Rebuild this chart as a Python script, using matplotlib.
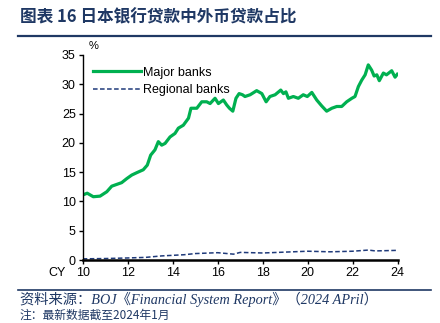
import numpy as np
import matplotlib
matplotlib.use("Agg")
import matplotlib.pyplot as plt
from matplotlib.lines import Line2D

plt.rcParams['font.family'] = ['Liberation Sans', 'Noto Sans CJK SC']

# 大型银行外币贷款占比(%)
major_x = [10.0, 10.2, 10.47, 10.77, 11.07, 11.29, 11.51, 11.73, 11.96, 12.18, 12.4, 12.69,
           12.87, 13.02, 13.21, 13.36, 13.51, 13.66, 13.88, 14.1, 14.25, 14.47, 14.7, 14.81,
           15.07, 15.29, 15.51, 15.66, 15.88, 16.03, 16.25, 16.4, 16.52, 16.67, 16.81, 16.95,
           17.1, 17.21, 17.44, 17.73, 17.96, 18.15, 18.32, 18.55, 18.8, 18.92, 19.03, 19.14,
           19.36, 19.58, 19.8, 19.98, 20.18, 20.4, 20.62, 20.84, 21.07, 21.29, 21.51, 21.73,
           21.96, 22.1, 22.25, 22.4, 22.55, 22.69, 22.84, 22.95, 23.07, 23.18, 23.36, 23.5,
           23.73, 23.88, 23.98]
major_y = [11.1, 11.4, 10.8, 10.9, 11.65, 12.6, 12.9, 13.2, 13.9, 14.5, 14.9, 15.4,
           16.2, 17.9, 18.8, 20.2, 19.6, 19.9, 21.0, 21.6, 22.5, 23.0, 24.2, 25.9,
           25.9, 27.0, 27.0, 26.7, 27.6, 26.7, 27.3, 26.45, 25.9, 25.4, 27.6, 28.4,
           28.2, 27.9, 28.2, 28.9, 28.4, 27.0, 27.9, 28.2, 29.0, 28.4, 28.7, 27.6,
           27.9, 27.6, 28.2, 27.9, 28.6, 27.3, 26.3, 25.4, 25.9, 26.2, 26.2, 27.0,
           27.6, 27.9, 29.6, 30.7, 31.6, 33.3, 32.4, 31.4, 31.6, 30.6, 31.9, 31.6,
           32.3, 31.2, 31.7]

# 地方银行外币贷款占比(%)
regional_x = [10, 11, 12, 12.8, 13.5, 14.5, 15, 16, 16.7, 17, 18, 19, 20, 21, 22, 22.7, 23, 24]
regional_y = [0.2, 0.25, 0.35, 0.45, 0.7, 0.9, 1.1, 1.25, 1.0, 1.3, 1.2, 1.35, 1.5, 1.4, 1.5, 1.7, 1.55, 1.65]

xticks = [10, 12, 14, 16, 18, 20, 22, 24]
yticks = [0, 5, 10, 15, 20, 25, 30, 35]

title = "图表 16 日本银行贷款中外币贷款占比"
source = "资料来源：BOJ《Financial System Report》（2024 APril）"
note = "注：最新数据截至2024年1月"

navy = "#1f3864"
green = "#00b050"

fig = plt.figure(figsize=(4.4, 3.23), dpi=100)
ax = fig.add_axes([0.188, 0.195, 0.716, 0.635])

ax.plot(major_x, major_y, color=green, lw=2.3, label="Major banks", solid_joinstyle="round")
ax.plot(regional_x, regional_y, color="#1f3a7a", lw=1.1, ls=(0, (3, 1.6)), label="Regional banks")

ax.set_xlim(10, 24)
ax.set_ylim(0, 35)
ax.set_xticks(xticks)
ax.set_yticks(yticks)
ax.tick_params(labelsize=9, length=3, width=1, color="black", pad=2)
for side in ["top", "right"]:
    ax.spines[side].set_visible(False)
ax.spines["left"].set_linewidth(1)
ax.spines["bottom"].set_linewidth(1.8)

ax.text(-0.055, -0.035, "CY", transform=ax.transAxes, fontsize=9, ha="right", va="top")
ax.text(0.02, 1.02, "%", transform=ax.transAxes, fontsize=8, ha="left", va="bottom")

ax.legend(loc="upper left", bbox_to_anchor=(0.01, 0.98), frameon=False, fontsize=9,
          handlelength=3.8, handletextpad=0.2, labelspacing=0.45, borderaxespad=0.2)

fig.text(0.045, 0.945, title, fontsize=12, fontweight="bold", color=navy,
         family=["Noto Sans CJK SC"], ha="left", va="center")
fig.add_artist(Line2D([0.04, 0.98], [0.888, 0.888], color=navy, lw=1.6))
fig.add_artist(Line2D([0.04, 0.98], [0.102, 0.102], color=navy, lw=1.2))
fig.text(0.045, 0.072, source, fontsize=10.3, style="italic", color=navy,
         family=["Liberation Serif", "Noto Sans CJK SC"], ha="left", va="center")
fig.text(0.045, 0.004, note, fontsize=8.5, color=navy,
         family=["Noto Sans CJK SC"], ha="left", va="bottom")

fig.savefig("out.png", dpi=100)
